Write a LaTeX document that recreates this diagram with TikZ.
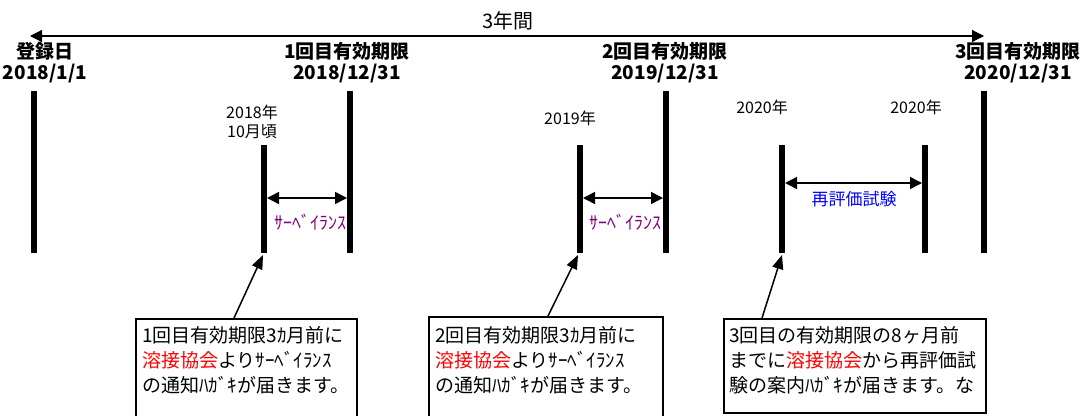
\documentclass[tikz,border=0pt]{standalone}
\usepackage{fontspec}
\setmainfont{Noto Sans CJK JP}
\usetikzlibrary{shapes, arrows.meta, calc}
\definecolor{survpurple}{RGB}{128,0,128}
\definecolor{testblue}{RGB}{0,0,255}
\tikzstyle{bar}       = [draw, line width=6pt]
\tikzstyle{datelabel} = [font=\bfseries\fontsize{19}{21}\selectfont, align=center, inner sep=0pt]
\tikzstyle{yearlabel} = [font=\fontsize{16}{19}\selectfont, align=center, inner sep=0pt]
\tikzstyle{spanlabel} = [font=\fontsize{18}{20}\selectfont, inner sep=0pt]
\tikzstyle{period}    = [draw, line width=1.5pt, {Triangle[length=12pt,width=12pt]}-{Triangle[length=12pt,width=12pt]}]
\tikzstyle{callout}   = [draw, line width=1.5pt, -{Triangle[length=14pt,width=11pt]}]
\tikzstyle{notebox}   = [rectangle, draw, line width=1.5pt, anchor=north west]
\tikzstyle{notetext}  = [font=\fontsize{19}{25}\selectfont, align=left, anchor=north west, inner sep=0pt]

\begin{document}
\begin{tikzpicture}[x=1pt, y=-1pt]
    \useasboundingbox (0,0) rectangle (1089,415);
    \clip (0,0) rectangle (1089,415);
    % whole term
    \coordinate (begin) at (30,36);
    \coordinate (end) at (984,36);
    \path[period, line width=1.2pt](begin) -- (end);
    \node[font=\fontsize{20}{22}\selectfont](span) at (508,21){3年間};
    % dates
    \node[datelabel](reg) at (45,63){登録日\\2018/1/1};
    \node[datelabel](exp1) at (347,63){1回目有効期限\\2018/12/31};
    \node[datelabel](exp2) at (665,63){2回目有効期限\\2019/12/31};
    \node[datelabel](exp3) at (1018,63){3回目有効期限\\2020/12/31};
    \path[bar](34,91) -- (34,253);
    \path[bar](350,91) -- (350,253);
    \path[bar](666,91) -- (666,253);
    \path[bar](984,91) -- (984,253);
    % notices
    \node[yearlabel](yr1) at (252,122){2018年\\10月頃};
    \node[yearlabel](yr2) at (570,118){2019年};
    \node[yearlabel](yr3) at (762,107){2020年};
    \node[yearlabel](yr4) at (916,107){2020年};
    \path[bar](264,145) -- (264,253) coordinate (notice1);
    \path[bar](580,145) -- (580,253) coordinate (notice2);
    \path[bar](782,145) -- (782,253) coordinate (notice3);
    \path[bar](925,145) -- (925,253);
    % periods between bars
    \coordinate (sv1a) at (267,198);
    \coordinate (sv1b) at (347,198);
    \coordinate (sv2a) at (583,198);
    \coordinate (sv2b) at (663,198);
    \coordinate (testa) at (785,183);
    \coordinate (testb) at (922,183);
    \path[period](sv1a) -- (sv1b);
    \path[period](sv2a) -- (sv2b);
    \path[period](testa) -- (testb);
    \node[spanlabel, text=survpurple](sv1) at (310,222){ｻｰﾍﾞｲﾗﾝｽ};
    \node[spanlabel, text=survpurple](sv2) at (625,222){ｻｰﾍﾞｲﾗﾝｽ};
    \node[yearlabel, font=\fontsize{17}{19}\selectfont, text=testblue](test) at (854,199){再評価試験};
    % notes
    \node[notebox, minimum width=221pt, minimum height=120pt](note1) at (135,318){};
    \node[notebox, minimum width=234pt, minimum height=120pt](note2) at (428,316){};
    \node[notebox, minimum width=262pt, minimum height=94pt](note3) at (723,318){};
    \node[notetext](text1) at (142,326){1回目有効期限3ｶ月前に\\{\color{red}溶接協会}よりｻｰﾍﾞｲﾗﾝｽ\\の通知ﾊｶﾞｷが届きます。};
    \node[notetext](text2) at (435,326){2回目有効期限3ｶ月前に\\{\color{red}溶接協会}よりｻｰﾍﾞｲﾗﾝｽ\\の通知ﾊｶﾞｷが届きます。};
    \node[notetext](text3) at (729,326){3回目の有効期限の8ヶ月前\\までに{\color{red}溶接協会}から再評価試\\験の案内ﾊｶﾞｷが届きます。な};
    \path[callout]($(note1.north west)+(99,0)$) -- ($(notice1)+(-1,2)$);
    \path[callout]($(note2.north west)+(120,0)$) -- ($(notice2)+(-2,2)$);
    \path[callout]($(note3.north west)+(39,0)$) -- ($(notice3)+(0,2)$);
\end{tikzpicture}
\end{document}
